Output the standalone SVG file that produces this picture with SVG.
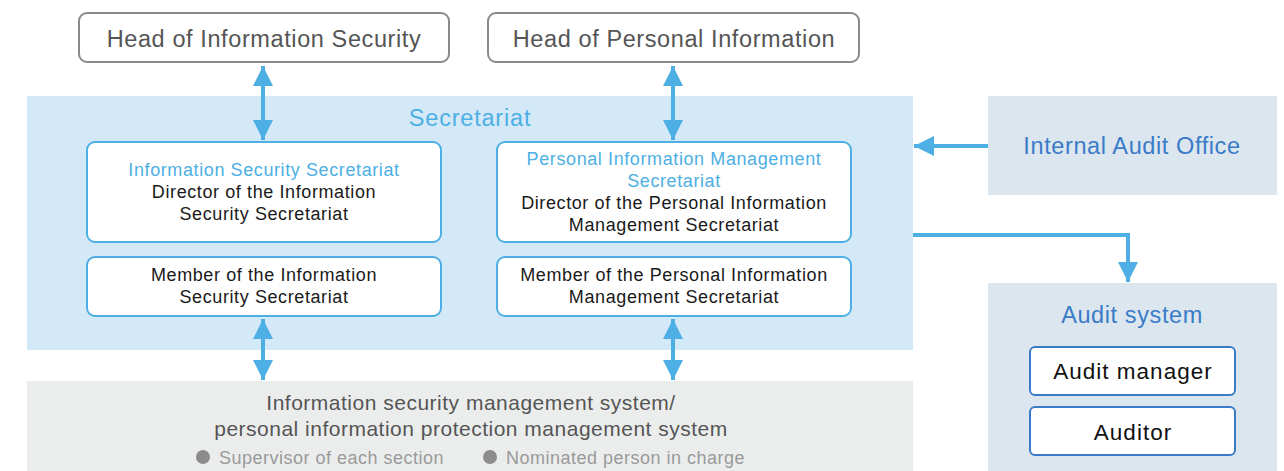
<svg xmlns="http://www.w3.org/2000/svg" width="1284" height="471" viewBox="0 0 1284 471">
<defs>
<style>
text{font-family:"Liberation Sans",Arial,sans-serif;text-anchor:middle}
.head{fill:#fff;stroke:#8a8a8a;stroke-width:2}
.headt{font-size:23.5px;letter-spacing:0.6px;fill:#555}
.sec{fill:#fff;stroke:#4dafe3;stroke-width:2}
.blue{fill:#4dafe3}
.s18{font-size:18px;letter-spacing:0.6px}
.dark{fill:#1a1a1a}
.t23{font-size:23.5px;letter-spacing:0.6px}
.conn{stroke:#4dafe3;stroke-width:4;fill:none}
.aud{fill:#fff;stroke:#3a7bc8;stroke-width:2}
.audt{font-size:22.5px;letter-spacing:1px;fill:#111}
</style>
<marker id="ah" viewBox="0 0 10 10" refX="10" refY="5" markerWidth="5.5" markerHeight="5" markerUnits="strokeWidth" orient="auto-start-reverse"><path d="M0,0 L10,5 L0,10 z" fill="#4dafe3"/></marker>
</defs>
<g id="secretariat-region">
<rect x="27" y="96" width="886" height="254" fill="#d4e9f7"/>
<text x="470" y="126" class="t23 blue" style="letter-spacing:0.8px">Secretariat</text>
</g>
<g id="ms-region">
<rect x="27" y="381" width="886" height="90" fill="#ebeded"/>
<text x="471" y="410" font-size="21" letter-spacing="0.5" fill="#555">Information security management system/</text>
<text x="471" y="436" font-size="21" letter-spacing="0.5" fill="#555">personal information protection management system</text>
<circle cx="203" cy="457" r="7" fill="#8c8c8c"/>
<text x="219" y="464" font-size="18" letter-spacing="0.5" fill="#9a9a9a" style="text-anchor:start">Supervisor of each section</text>
<circle cx="490" cy="457" r="7" fill="#8c8c8c"/>
<text x="506" y="464" font-size="18" letter-spacing="0.5" fill="#9a9a9a" style="text-anchor:start">Nominated person in charge</text>
</g>
<g id="head-is">
<rect class="head" x="79" y="13" width="370" height="49" rx="8"/>
<text class="headt" x="264" y="47">Head of Information Security</text>
</g>
<g id="head-pi">
<rect class="head" x="488" y="13" width="371" height="49" rx="8"/>
<text class="headt" x="674" y="47">Head of Personal Information</text>
</g>
<g id="is-secretariat">
<rect class="sec" x="87" y="142" width="354" height="100" rx="8"/>
<text x="264" y="176" class="s18 blue">Information Security Secretariat</text>
<text x="264" y="198" class="s18 dark">Director of the Information</text>
<text x="264" y="220" class="s18 dark">Security Secretariat</text>
</g>
<g id="pim-secretariat">
<rect class="sec" x="497" y="142" width="354" height="100" rx="8"/>
<text x="674" y="165" class="s18 blue">Personal Information Management</text>
<text x="674" y="187" class="s18 blue">Secretariat</text>
<text x="674" y="209" class="s18 dark">Director of the Personal Information</text>
<text x="674" y="231" class="s18 dark">Management Secretariat</text>
</g>
<g id="is-member">
<rect class="sec" x="87" y="257" width="354" height="59" rx="8"/>
<text x="264" y="281" class="s18 dark">Member of the Information</text>
<text x="264" y="303" class="s18 dark">Security Secretariat</text>
</g>
<g id="pim-member">
<rect class="sec" x="497" y="257" width="354" height="59" rx="8"/>
<text x="674" y="281" class="s18 dark">Member of the Personal Information</text>
<text x="674" y="303" class="s18 dark">Management Secretariat</text>
</g>
<g id="internal-audit">
<rect x="988" y="96" width="289" height="99" fill="#dce6ee"/>
<text x="1132" y="154" class="t23" fill="#3a7bc8">Internal Audit Office</text>
</g>
<g id="audit-system">
<rect x="988" y="283" width="289" height="188" fill="#dce6ee"/>
<text x="1132" y="323" class="t23" fill="#3a7bc8">Audit system</text>
<rect class="aud" x="1030" y="347" width="205" height="48" rx="5"/>
<text x="1133" y="379" class="audt">Audit manager</text>
<rect class="aud" x="1030" y="407" width="205" height="48" rx="5"/>
<text x="1133" y="440" class="audt">Auditor</text>
</g>
<g id="connectors">
<line class="conn" x1="263" y1="66" x2="263" y2="140" marker-start="url(#ah)" marker-end="url(#ah)"/>
<line class="conn" x1="673" y1="66" x2="673" y2="140" marker-start="url(#ah)" marker-end="url(#ah)"/>
<line class="conn" x1="263" y1="319" x2="263" y2="380" marker-start="url(#ah)" marker-end="url(#ah)"/>
<line class="conn" x1="673" y1="319" x2="673" y2="380" marker-start="url(#ah)" marker-end="url(#ah)"/>
<line class="conn" x1="988" y1="146" x2="914" y2="146" marker-end="url(#ah)"/>
<polyline class="conn" points="913,235 1128,235 1128,282" marker-end="url(#ah)"/>
</g>
</svg>
